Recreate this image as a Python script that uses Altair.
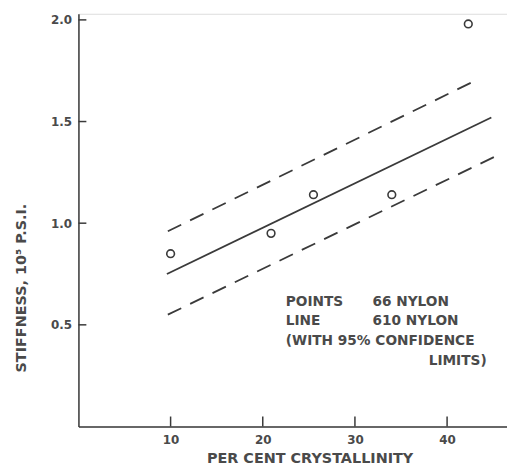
import altair as alt
import pandas as pd

# 66 nylon measured points
crystallinity = [10.0, 20.9, 25.5, 34.0, 42.3]
stiffness = [0.85, 0.95, 1.14, 1.14, 1.98]

# 610 nylon regression line and 95% confidence limits (end points)
fit_x = [9.6, 44.8]
fit_y = [0.75, 1.52]
upper_x = [9.7, 43.0]
upper_y = [0.96, 1.70]
lower_x = [9.7, 45.3]
lower_y = [0.55, 1.33]

x_ticks = [10, 20, 30, 40]
y_ticks = [0.5, 1.0, 1.5, 2.0]

ann_text = ["POINTS", "66 NYLON", "LINE", "610 NYLON", "(WITH 95% CONFIDENCE", "LIMITS)"]
ann_x = [22.5, 31.9, 22.5, 31.9, 22.5, 38.0]
ann_y = [0.61, 0.61, 0.517, 0.517, 0.42, 0.322]

FONT = "DejaVu Sans"
INK = "#3a3a3a"
TXT = "#4a4a4a"

points_df = pd.DataFrame({"x": crystallinity, "y": stiffness})
fit_df = pd.DataFrame({"x": fit_x, "y": fit_y})
conf_df = pd.DataFrame({
    "x": upper_x + lower_x,
    "y": upper_y + lower_y,
    "limit": ["upper"] * len(upper_x) + ["lower"] * len(lower_x),
})
ann_df = pd.DataFrame({"x": ann_x, "y": ann_y, "t": ann_text})
xt_df = pd.DataFrame({"x": x_ticks, "y0": [0.0] * len(x_ticks), "y1": [0.049] * len(x_ticks)})
yt_df = pd.DataFrame({"y": y_ticks, "x0": [0.0] * len(y_ticks), "x1": [0.86] * len(y_ticks)})

xs = alt.Scale(domain=[0, 46.5], nice=False, zero=False)
ys = alt.Scale(domain=[0, 2.03], nice=False, zero=False)

x_axis = alt.Axis(
    values=x_ticks, ticks=False, grid=False, format="d",
    labelFont=FONT, labelFontSize=12, labelFontWeight="bold", labelColor=TXT, labelPadding=8,
    domainColor=INK, domainWidth=1.5,
    title="PER CENT CRYSTALLINITY", titleFont=FONT, titleFontSize=14.5,
    titleFontWeight="bold", titleColor=TXT,
    titleX=233, titleY=36, titleAlign="center", titleBaseline="alphabetic",
)
y_axis = alt.Axis(
    values=y_ticks, ticks=False, grid=False, format=".1f",
    labelFont=FONT, labelFontSize=12, labelFontWeight="bold", labelColor=TXT, labelPadding=7,
    domainColor=INK, domainWidth=1.5,
    title="STIFFNESS, 10⁵ P.S.I.", titleFont=FONT, titleFontSize=14.5,
    titleFontWeight="bold", titleColor=TXT,
    titleAngle=270, titleX=-57, titleY=276, titleAlign="center", titleBaseline="middle",
)

X = alt.X("x:Q", scale=xs, axis=x_axis)
Y = alt.Y("y:Q", scale=ys, axis=y_axis)

pts = alt.Chart(points_df).mark_point(
    shape="circle", filled=False, size=60, strokeWidth=1.6, color=INK, opacity=1
).encode(x=X, y=Y)

fit = alt.Chart(fit_df).mark_line(color=INK, strokeWidth=1.8).encode(x=X, y=Y)

conf = alt.Chart(conf_df).mark_line(
    color=INK, strokeWidth=1.8, strokeDash=[15, 10]
).encode(x=X, y=Y, detail="limit:N")

ann = alt.Chart(ann_df).mark_text(
    font=FONT, fontSize=13.8, fontWeight="bold", color=TXT, align="left", baseline="middle"
).encode(x=X, y=Y, text="t:N")

xt = alt.Chart(xt_df).mark_rule(color=INK, strokeWidth=1.5).encode(
    x=X, y=alt.Y("y0:Q", scale=ys, axis=y_axis), y2="y1:Q"
)
yt = alt.Chart(yt_df).mark_rule(color=INK, strokeWidth=1.5).encode(
    y=Y, x=alt.X("x0:Q", scale=xs, axis=x_axis), x2="x1:Q"
)

chart = alt.layer(pts, fit, conf, ann, xt, yt).properties(
    width=432, height=416,
    padding={"left": 71, "top": 4, "right": 0, "bottom": 38},
    autosize=alt.AutoSizeParams(type="none"),
).configure_view(stroke=None).configure(background="white")

chart.save("out.html", embed_options={"renderer": "svg", "actions": False})
